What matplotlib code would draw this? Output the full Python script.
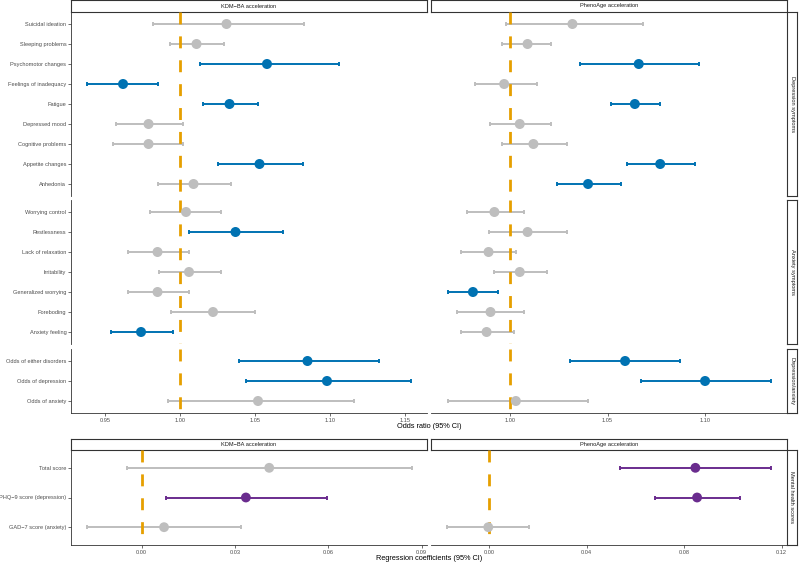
#!/usr/bin/env python3
"""
Forest plot: biological age acceleration (KDM-BA, PhenoAge) vs. depression /
anxiety symptoms (odds ratios) and mental health scores (regression coefs).
"""

import matplotlib
matplotlib.use('Agg')
import matplotlib.pyplot as plt

plt.rcParams['font.family'] = ['Liberation Sans', 'DejaVu Sans']
plt.rcParams['lines.scale_dashes'] = False

M = '\u2212'

# ---- data: odds ratios (top figure), listed top to bottom within each facet
facet_names = ['Depression symptoms', 'Anxiety symptoms', 'Depression/anxiety']
facet_sizes = [9, 7, 3]
or_items = [
    'Suicidal ideation', 'Sleeping problems', 'Psychomotor changes',
    'Feelings of inadequacy', 'Fatigue', 'Depressed mood',
    'Cognitive problems', 'Appetite changes', 'Anhedonia',
    'Worrying control', 'Restlessness', 'Lack of relaxation', 'Irritability',
    'Generalized worrying', 'Foreboding', 'Anxiety feeling',
    'Odds of either disorders', 'Odds of depression', 'Odds of anxiety',
]

kdm_or = [1.031, 1.011, 1.058, 0.962, 1.033, 0.979, 0.979, 1.053, 1.009,
          1.004, 1.037, 0.985, 1.006, 0.985, 1.022, 0.974,
          1.085, 1.098, 1.052]
kdm_lo = [0.982, 0.993, 1.013, 0.938, 1.015, 0.957, 0.955, 1.025, 0.985,
          0.980, 1.006, 0.965, 0.986, 0.965, 0.994, 0.954,
          1.039, 1.044, 0.992]
kdm_hi = [1.083, 1.029, 1.106, 0.985, 1.052, 1.002, 1.002, 1.082, 1.034,
          1.027, 1.069, 1.006, 1.027, 1.006, 1.050, 0.995,
          1.133, 1.154, 1.116]

pheno_or = [1.032, 1.009, 1.066, 0.997, 1.064, 1.005, 1.012, 1.077, 1.040,
            0.992, 1.009, 0.989, 1.005, 0.981, 0.990, 0.988,
            1.059, 1.100, 1.003]
pheno_lo = [0.998, 0.996, 1.036, 0.982, 1.052, 0.990, 0.996, 1.060, 1.024,
            0.978, 0.989, 0.975, 0.992, 0.968, 0.973, 0.975,
            1.031, 1.067, 0.968]
pheno_hi = [1.068, 1.021, 1.097, 1.014, 1.077, 1.021, 1.029, 1.095, 1.057,
            1.007, 1.029, 1.003, 1.019, 0.994, 1.007, 1.002,
            1.087, 1.134, 1.040]

# ---- data: regression coefficients (bottom figure)
score_facet = 'Mental health scores'
score_items = ['Total score', f'PHQ{M}9 score (depression)', f'GAD{M}7 score (anxiety)']
kdm_beta = [0.0410, 0.0335, 0.0072]
kdm_beta_lo = [-0.0047, 0.0077, -0.0175]
kdm_beta_hi = [0.0868, 0.0595, 0.0319]
pheno_beta = [0.0846, 0.0853, -0.0004]
pheno_beta_lo = [0.0537, 0.0679, -0.0172]
pheno_beta_hi = [0.1158, 0.1028, 0.0164]

clock_names = [f'KDM{M}BA acceleration', 'PhenoAge acceleration']

or_ticks = [[0.95, 1.00, 1.05, 1.10, 1.15], [1.00, 1.05, 1.10]]
or_xlim = [(0.9273, 1.1647), (0.9595, 1.142)]
beta_ticks = [[0.00, 0.03, 0.06, 0.09], [0.00, 0.04, 0.08, 0.12]]
beta_xlim = [(-0.0227, 0.0917), (-0.0239, 0.1222)]

# ---- styling
BLUE = '#0072B2'
PURPLE = '#6A2C8E'
GREY = '#BEBEBE'
ORANGE = '#E69F00'
LINE = '#333333'
TICK_TXT = '#4D4D4D'
FS = 4.1

W, H = 799, 563
fig = plt.figure(figsize=(W / 100, H / 100), dpi=100)


def add_ax(x0, y0, x1, y1):
    """Axes from pixel box (top-left origin)."""
    return fig.add_axes([x0 / W, 1 - y1 / H, (x1 - x0) / W, (y1 - y0) / H])


def strip(x0, y0, x1, y1, text, rotation=0):
    ax = add_ax(x0, y0, x1, y1)
    ax.set_xticks([])
    ax.set_yticks([])
    ax.set_facecolor('white')
    for s in ax.spines.values():
        s.set_color(LINE)
        s.set_linewidth(0.8)
    ax.text(0.5, 0.5, text, ha='center', va='center', rotation=rotation,
            fontsize=FS, color='#1A1A1A', transform=ax.transAxes)


def forest(ax, labels, est, lo, hi, null, sig_color, xlim, ticks,
           show_y, show_x, size):
    n = len(est)
    y = list(range(n))
    cols = [sig_color if (l > null or h < null) else GREY for l, h in zip(lo, hi)]
    for yi, e, l, h, c in zip(y, est, lo, hi, cols):
        ax.errorbar(e, yi, xerr=[[e - l], [h - e]], fmt='none', ecolor=c,
                    elinewidth=1.4, capsize=1.6, capthick=1.4, zorder=2)
    ax.plot([null, null], [1, 0], transform=ax.get_xaxis_transform(),
            color=ORANGE, linewidth=2.0, dashes=(8.6, 8.6), zorder=3)
    ax.scatter(est, y, s=size, c=cols, zorder=4, linewidths=0)
    ax.set_xlim(*xlim)
    ax.set_ylim(n - 0.4, -0.6)
    ax.set_facecolor('none')
    for s in ['top', 'right']:
        ax.spines[s].set_visible(False)
    for s in ['left', 'bottom']:
        ax.spines[s].set_color(LINE)
        ax.spines[s].set_linewidth(0.6)
    ax.tick_params(length=2.2, width=0.5, color=LINE, labelsize=FS,
                   labelcolor=TICK_TXT, pad=1.2)
    if show_y:
        ax.set_yticks(y)
        ax.set_yticklabels(labels)
    else:
        ax.set_yticks([])
        ax.spines['left'].set_visible(False)
    if show_x:
        ax.set_xticks(ticks)
        ax.set_xticklabels([f'{t:.2f}' for t in ticks])
    else:
        ax.set_xticks([])
        ax.spines['bottom'].set_visible(False)


col_x = [(71, 427), (431, 787)]
row_y = [(12, 196), (200, 344), (349, 413)]
or_data = [(kdm_or, kdm_lo, kdm_hi), (pheno_or, pheno_lo, pheno_hi)]

# ---- top figure: odds ratios
for c, (x0, x1) in enumerate(col_x):
    strip(x0, 0, x1, 12, clock_names[c])
    est, lo, hi = or_data[c]
    start = 0
    for r, (y0, y1) in enumerate(row_y):
        n = facet_sizes[r]
        sl = slice(start, start + n)
        start += n
        ax = add_ax(x0, y0, x1, y1)
        forest(ax, or_items[sl], est[sl], lo[sl], hi[sl], 1.0, BLUE,
               or_xlim[c], or_ticks[c], show_y=(c == 0),
               show_x=(r == len(row_y) - 1), size=52)

for r, (y0, y1) in enumerate(row_y):
    strip(787, y0, 797, y1, facet_names[r], rotation=270)

fig.text(429 / W, 1 - 427 / H, 'Odds ratio (95% CI)', ha='center',
         va='center', fontsize=5.3)

# ---- bottom figure: regression coefficients
beta_data = [(kdm_beta, kdm_beta_lo, kdm_beta_hi),
             (pheno_beta, pheno_beta_lo, pheno_beta_hi)]
for c, (x0, x1) in enumerate(col_x):
    strip(x0, 439, x1, 450, clock_names[c])
    est, lo, hi = beta_data[c]
    ax = add_ax(x0, 450, x1, 545)
    forest(ax, score_items, est, lo, hi, 0.0, PURPLE, beta_xlim[c],
           beta_ticks[c], show_y=(c == 0), show_x=True, size=50)

strip(787, 450, 797, 545, score_facet, rotation=270)

fig.text(429 / W, 1 - 558 / H, 'Regression coefficients (95% CI)',
         ha='center', va='center', fontsize=5.3)

fig.savefig('out.png', dpi=100, facecolor='white')
